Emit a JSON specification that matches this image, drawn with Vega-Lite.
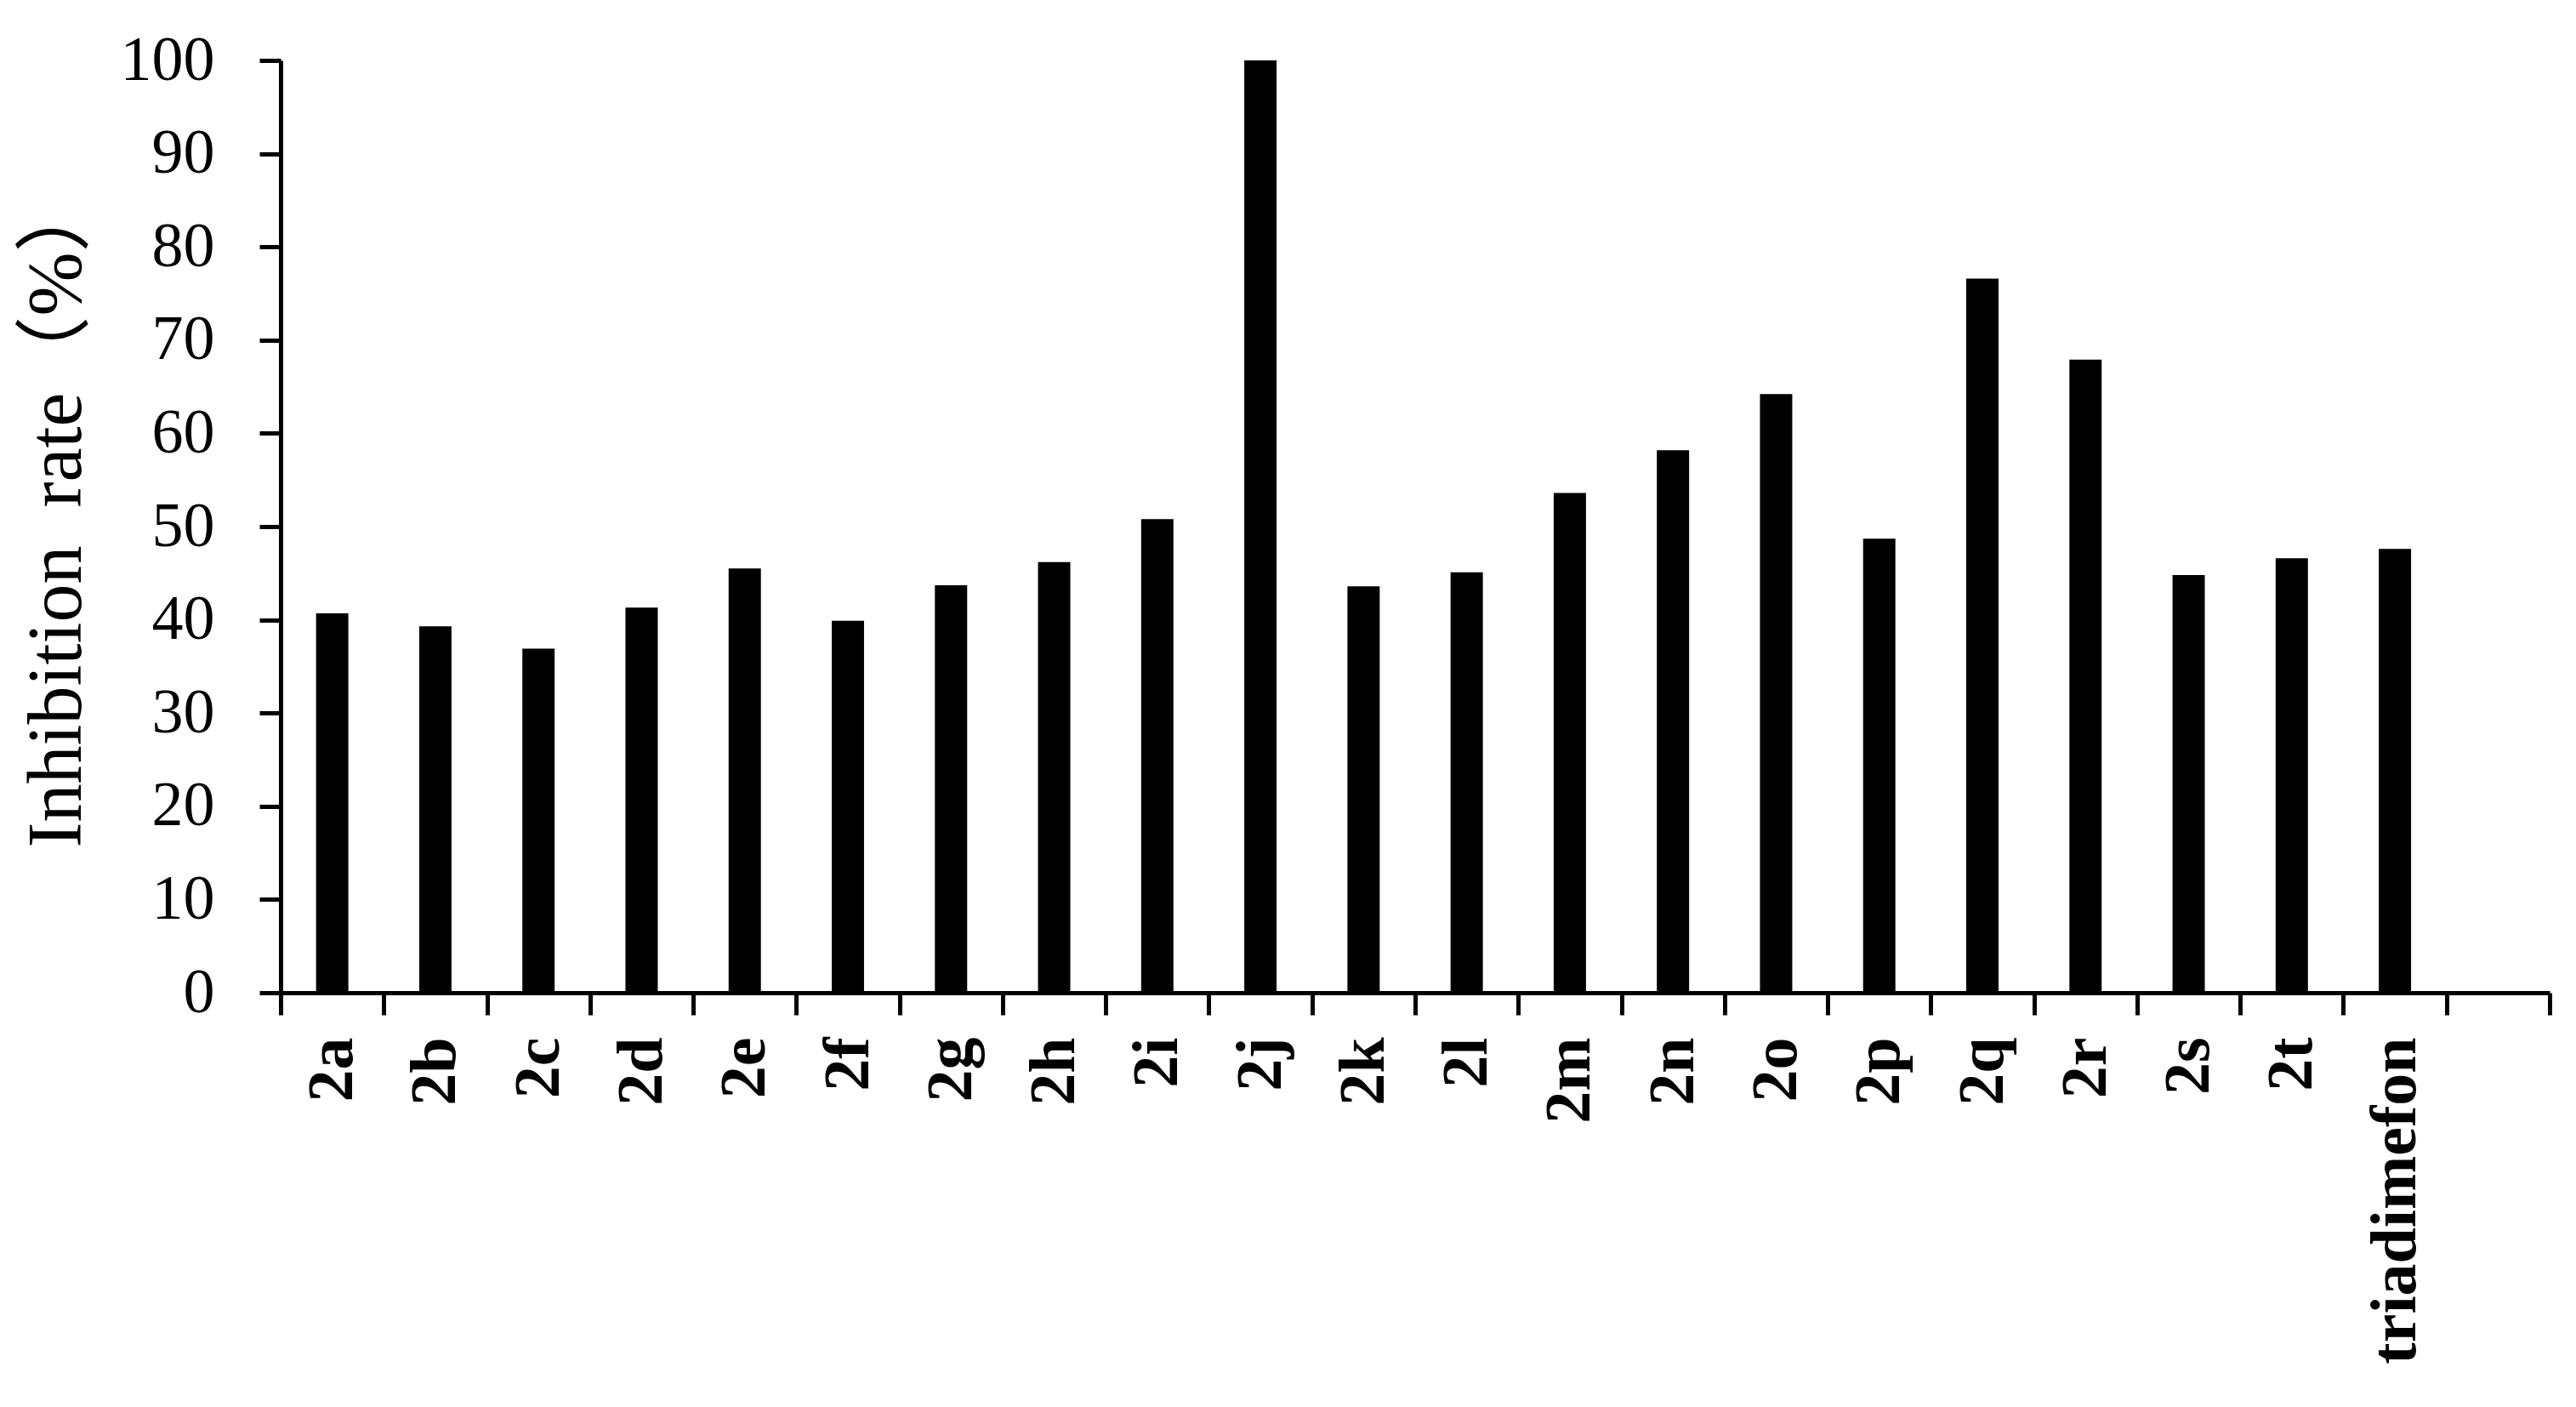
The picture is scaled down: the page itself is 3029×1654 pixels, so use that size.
{
  "$schema": "https://vega.github.io/schema/vega-lite/v6.json",
  "autosize": {"type": "none"},
  "padding": {"left": 330, "top": 71, "right": 31, "bottom": 487},
  "width": 2668,
  "height": 1096,
  "background": "white",
  "config": {
    "view": {"stroke": null},
    "axis": {
      "domainColor": "black",
      "tickColor": "black",
      "labelColor": "black",
      "titleColor": "black",
      "grid": false
    }
  },
  "data": {
    "values": [
      {"compound": "2a", "rate": 40.7},
      {"compound": "2b", "rate": 39.3},
      {"compound": "2c", "rate": 36.9},
      {"compound": "2d", "rate": 41.3},
      {"compound": "2e", "rate": 45.5},
      {"compound": "2f", "rate": 39.9},
      {"compound": "2g", "rate": 43.7},
      {"compound": "2h", "rate": 46.2},
      {"compound": "2i", "rate": 50.8},
      {"compound": "2j", "rate": 100},
      {"compound": "2k", "rate": 43.6},
      {"compound": "2l", "rate": 45.1},
      {"compound": "2m", "rate": 53.6},
      {"compound": "2n", "rate": 58.2},
      {"compound": "2o", "rate": 64.2},
      {"compound": "2p", "rate": 48.7},
      {"compound": "2q", "rate": 76.6},
      {"compound": "2r", "rate": 67.9},
      {"compound": "2s", "rate": 44.8},
      {"compound": "2t", "rate": 46.6},
      {"compound": "triadimefon", "rate": 47.6}
    ]
  },
  "mark": {"type": "bar", "color": "black", "width": {"band": 0.313}},
  "encoding": {
    "x": {
      "field": "compound",
      "type": "nominal",
      "sort": null,
      "scale": {
        "domain": ["2a", "2b", "2c", "2d", "2e", "2f", "2g", "2h", "2i", "2j", "2k", "2l", "2m", "2n", "2o", "2p", "2q", "2r", "2s", "2t", "triadimefon", " "],
        "paddingInner": 0,
        "paddingOuter": 0
      },
      "axis": {
        "title": null,
        "labelAngle": -90,
        "labelFont": "Liberation Serif",
        "labelFontWeight": "bold",
        "labelFontSize": 76,
        "labelPadding": 26,
        "labelLimit": 0,
        "tickBand": "extent",
        "tickSize": 26,
        "tickWidth": 5,
        "domainWidth": 5
      }
    },
    "y": {
      "field": "rate",
      "type": "quantitative",
      "scale": {"domain": [0, 100], "nice": false},
      "axis": {
        "title": "Inhibition\u00a0 rate（%）",
        "titleFont": "Liberation Serif, Noto Sans CJK SC",
        "titleFontWeight": "normal",
        "titleFontSize": 90,
        "titleAngle": -90,
        "titleAlign": "center",
        "titleBaseline": "alphabetic",
        "titleX": -236,
        "titleY": 530,
        "values": [0, 10, 20, 30, 40, 50, 60, 70, 80, 90, 100],
        "labelFont": "Liberation Serif",
        "labelFontSize": 74,
        "labelPadding": 53,
        "tickSize": 25,
        "tickWidth": 5,
        "domainWidth": 5
      }
    }
  }
}
